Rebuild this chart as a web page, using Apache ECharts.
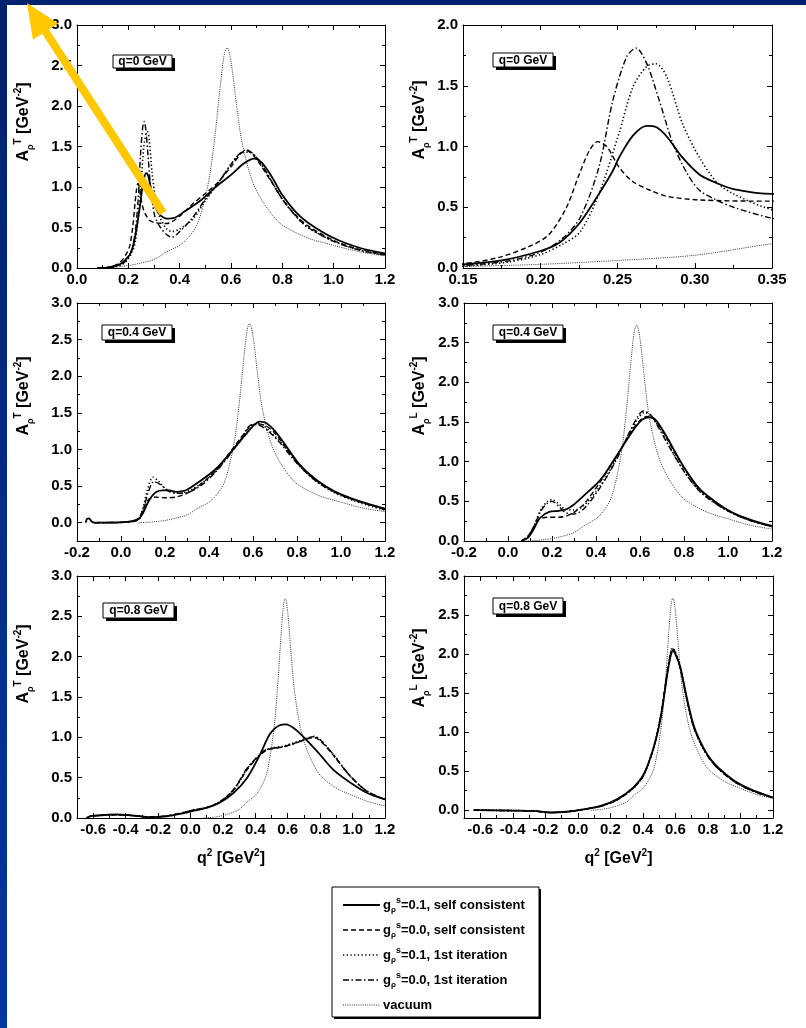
<!DOCTYPE html>
<html>
<head>
<meta charset="utf-8">
<script src="https://cdn.jsdelivr.net/npm/echarts@6/dist/echarts.min.js"></script>
<style>
html,body{margin:0;padding:0;background:#fff}
#chart{width:806px;height:1028px}
</style>
</head>
<body>
<div id="chart"></div>
<script>
var FONT = '"Liberation Sans", Arial, Helvetica, sans-serif';

// 真空谱函数 (same curve in every panel, x = q^2)
var vacuum = [[0.08,0],[0.12,0.005],[0.15,0.012],[0.2,0.03],[0.25,0.062],[0.3,0.105],[0.35,0.2],[0.4,0.28],[0.44,0.4],[0.47,0.55],[0.5,0.88],[0.52,1.2],[0.54,1.7],[0.56,2.3],[0.575,2.66],[0.585,2.72],[0.6,2.55],[0.62,2.05],[0.64,1.6],[0.67,1.2],[0.7,0.95],[0.75,0.7],[0.8,0.53],[0.9,0.37],[1.0,0.28],[1.1,0.2],[1.2,0.15]];

// q = 0, transverse (top two panels)
var q0Solid = [[0.08,0],[0.12,0.005],[0.15,0.03],[0.174,0.06],[0.2,0.14],[0.2126,0.21],[0.2255,0.37],[0.238,0.61],[0.247,0.8],[0.251,0.91],[0.26,1.09],[0.269,1.17],[0.275,1.16],[0.282,1.08],[0.292,0.91],[0.303,0.77],[0.314,0.7],[0.325,0.65],[0.35,0.61],[0.38,0.62],[0.42,0.7],[0.48,0.83],[0.54,1.0],[0.6,1.15],[0.65,1.29],[0.69,1.35],[0.72,1.3],[0.76,1.12],[0.8,0.9],[0.85,0.7],[0.9,0.56],[1.0,0.37],[1.1,0.25],[1.2,0.18]];
var q0Dashed = [[0.08,0],[0.12,0.01],[0.15,0.035],[0.174,0.09],[0.195,0.19],[0.206,0.28],[0.217,0.5],[0.2255,0.78],[0.232,0.97],[0.237,1.04],[0.243,1.0],[0.251,0.83],[0.26,0.71],[0.271,0.64],[0.282,0.59],[0.303,0.56],[0.35,0.55],[0.4,0.64],[0.45,0.79],[0.5,0.92],[0.55,1.06],[0.6,1.25],[0.64,1.42],[0.66,1.45],[0.69,1.38],[0.72,1.25],[0.76,1.05],[0.8,0.85],[0.85,0.66],[0.9,0.52],[1.0,0.34],[1.1,0.23],[1.2,0.17]];
var q0Dotted = [[0.08,0],[0.12,0.003],[0.15,0.015],[0.18,0.05],[0.2,0.11],[0.215,0.2],[0.226,0.3],[0.238,0.61],[0.251,1.11],[0.26,1.49],[0.269,1.66],[0.275,1.68],[0.282,1.57],[0.292,1.19],[0.303,0.91],[0.314,0.71],[0.325,0.61],[0.35,0.48],[0.37,0.45],[0.4,0.48],[0.45,0.6],[0.5,0.83],[0.55,1.05],[0.6,1.28],[0.64,1.42],[0.67,1.43],[0.7,1.36],[0.73,1.22],[0.76,1.06],[0.8,0.85],[0.85,0.65],[0.9,0.5],[1.0,0.33],[1.1,0.22],[1.2,0.16]];
var q0DashDot = [[0.08,0],[0.12,0.005],[0.15,0.02],[0.18,0.06],[0.2,0.13],[0.215,0.25],[0.226,0.42],[0.238,0.83],[0.247,1.38],[0.256,1.74],[0.262,1.81],[0.269,1.68],[0.277,1.38],[0.286,1.02],[0.295,0.78],[0.303,0.64],[0.314,0.56],[0.325,0.5],[0.35,0.41],[0.37,0.38],[0.4,0.45],[0.45,0.62],[0.5,0.85],[0.55,1.05],[0.6,1.28],[0.63,1.4],[0.66,1.46],[0.69,1.4],[0.72,1.28],[0.76,1.06],[0.8,0.85],[0.85,0.65],[0.9,0.5],[1.0,0.33],[1.1,0.22],[1.2,0.16]];

// q = 0.4 GeV, transverse
var q4tSolid = [[-0.16,0],[-0.155,0.05],[-0.145,0.06],[-0.135,0.02],[-0.12,0],[0,0.005],[0.05,0.02],[0.08,0.05],[0.1,0.13],[0.12,0.26],[0.14,0.36],[0.16,0.42],[0.19,0.44],[0.22,0.44],[0.25,0.42],[0.28,0.43],[0.3,0.45],[0.36,0.57],[0.43,0.73],[0.51,1.0],[0.56,1.18],[0.6,1.32],[0.63,1.38],[0.66,1.36],[0.7,1.25],[0.74,1.09],[0.81,0.8],[0.89,0.58],[0.97,0.43],[1.05,0.33],[1.12,0.26],[1.2,0.19]];
var q4tDashed = [[-0.12,0],[0,0.005],[0.05,0.02],[0.08,0.06],[0.1,0.18],[0.12,0.3],[0.15,0.35],[0.2,0.34],[0.25,0.35],[0.3,0.4],[0.36,0.52],[0.43,0.71],[0.5,0.98],[0.55,1.18],[0.59,1.32],[0.62,1.35],[0.66,1.32],[0.7,1.22],[0.74,1.06],[0.81,0.79],[0.89,0.57],[0.97,0.42],[1.05,0.32],[1.12,0.25],[1.2,0.18]];
var q4tDotted = [[-0.12,0],[0,0.005],[0.05,0.015],[0.08,0.05],[0.1,0.2],[0.12,0.45],[0.145,0.62],[0.17,0.57],[0.2,0.47],[0.23,0.42],[0.27,0.41],[0.32,0.45],[0.38,0.57],[0.43,0.7],[0.5,0.96],[0.55,1.16],[0.58,1.3],[0.61,1.35],[0.64,1.34],[0.68,1.24],[0.74,1.05],[0.81,0.78],[0.89,0.56],[0.97,0.41],[1.05,0.31],[1.12,0.24],[1.2,0.17]];
var q4tDashDot = [[-0.12,0],[0,0.005],[0.05,0.015],[0.08,0.04],[0.1,0.15],[0.12,0.38],[0.15,0.56],[0.18,0.52],[0.21,0.44],[0.25,0.4],[0.3,0.41],[0.36,0.5],[0.43,0.69],[0.5,0.95],[0.55,1.17],[0.58,1.31],[0.6,1.34],[0.63,1.33],[0.67,1.25],[0.72,1.1],[0.78,0.88],[0.85,0.66],[0.92,0.5],[1.0,0.38],[1.1,0.27],[1.2,0.19]];

// q = 0.4 GeV, longitudinal
var q4lSolid = [[0.06,0],[0.09,0.04],[0.115,0.14],[0.145,0.29],[0.19,0.37],[0.23,0.38],[0.266,0.4],[0.3,0.46],[0.34,0.56],[0.42,0.77],[0.49,1.06],[0.57,1.4],[0.61,1.53],[0.64,1.56],[0.67,1.53],[0.72,1.32],[0.76,1.12],[0.8,0.93],[0.87,0.66],[0.95,0.48],[1.02,0.36],[1.1,0.27],[1.2,0.19]];
var q4lDashed = [[0.06,0],[0.09,0.06],[0.115,0.17],[0.14,0.27],[0.18,0.3],[0.23,0.3],[0.27,0.32],[0.31,0.38],[0.35,0.48],[0.42,0.75],[0.49,1.05],[0.56,1.38],[0.6,1.52],[0.63,1.57],[0.66,1.54],[0.7,1.4],[0.75,1.15],[0.8,0.92],[0.87,0.65],[0.95,0.47],[1.02,0.35],[1.1,0.26],[1.2,0.18]];
var q4lDotted = [[0.06,0],[0.09,0.05],[0.12,0.2],[0.15,0.4],[0.18,0.5],[0.2,0.52],[0.23,0.47],[0.26,0.4],[0.3,0.39],[0.35,0.46],[0.42,0.7],[0.49,1.02],[0.55,1.35],[0.59,1.54],[0.62,1.62],[0.65,1.58],[0.69,1.42],[0.74,1.16],[0.8,0.88],[0.87,0.63],[0.95,0.46],[1.02,0.35],[1.1,0.26],[1.2,0.18]];
var q4lDashDot = [[0.06,0],[0.09,0.05],[0.12,0.2],[0.15,0.38],[0.18,0.48],[0.2,0.5],[0.23,0.44],[0.26,0.36],[0.3,0.34],[0.35,0.42],[0.42,0.68],[0.49,1.01],[0.55,1.36],[0.59,1.57],[0.615,1.64],[0.645,1.6],[0.68,1.45],[0.73,1.2],[0.8,0.88],[0.87,0.63],[0.95,0.46],[1.02,0.35],[1.1,0.26],[1.2,0.18]];

// q = 0.8 GeV, transverse
var q8tSolid = [[-0.64,0],[-0.62,0.02],[-0.56,0.035],[-0.46,0.045],[-0.4,0.04],[-0.35,0.03],[-0.25,0.01],[-0.15,0.02],[-0.04,0.06],[0.02,0.09],[0.1,0.125],[0.18,0.19],[0.265,0.31],[0.35,0.5],[0.43,0.79],[0.49,1.04],[0.55,1.15],[0.59,1.16],[0.64,1.11],[0.68,1.04],[0.78,0.83],[0.88,0.6],[0.985,0.44],[1.09,0.31],[1.2,0.23]];
var q8tDashed = [[-0.64,0],[-0.62,0.02],[-0.56,0.03],[-0.46,0.04],[-0.35,0.03],[-0.25,0.012],[-0.15,0.025],[-0.04,0.07],[0.02,0.1],[0.1,0.13],[0.18,0.2],[0.265,0.35],[0.35,0.6],[0.41,0.74],[0.47,0.84],[0.57,0.88],[0.635,0.92],[0.72,0.98],[0.76,1.0],[0.8,0.96],[0.88,0.78],[0.985,0.52],[1.09,0.33],[1.2,0.23]];
var q8tDotted = [[-0.64,0],[-0.62,0.02],[-0.56,0.03],[-0.46,0.04],[-0.35,0.03],[-0.25,0.01],[-0.15,0.022],[-0.04,0.068],[0.02,0.1],[0.1,0.13],[0.18,0.2],[0.265,0.34],[0.35,0.61],[0.41,0.75],[0.47,0.85],[0.57,0.89],[0.635,0.93],[0.72,0.99],[0.76,1.01],[0.8,0.97],[0.88,0.79],[0.985,0.52],[1.09,0.33],[1.2,0.23]];
var q8tDashDot = [[-0.64,0],[-0.62,0.02],[-0.56,0.03],[-0.46,0.04],[-0.35,0.03],[-0.25,0.01],[-0.15,0.025],[-0.04,0.07],[0.02,0.1],[0.1,0.13],[0.18,0.2],[0.265,0.35],[0.35,0.62],[0.41,0.75],[0.47,0.85],[0.57,0.88],[0.635,0.92],[0.72,0.98],[0.76,1.01],[0.8,0.97],[0.88,0.79],[0.985,0.52],[1.09,0.33],[1.2,0.23]];

// q = 0.8 GeV, longitudinal
var q8lSolid = [[-0.64,0],[-0.4,-0.005],[-0.27,-0.01],[-0.17,-0.03],[-0.07,-0.02],[0.035,0.01],[0.14,0.055],[0.24,0.14],[0.34,0.29],[0.405,0.46],[0.466,0.8],[0.51,1.19],[0.55,1.74],[0.57,1.97],[0.585,2.04],[0.6,2.0],[0.63,1.83],[0.67,1.44],[0.71,1.1],[0.75,0.89],[0.8,0.7],[0.86,0.55],[0.96,0.38],[1.06,0.27],[1.2,0.16]];
var q8lDashed = [[-0.64,0],[-0.4,-0.005],[-0.27,-0.01],[-0.17,-0.03],[-0.07,-0.02],[0.035,0.01],[0.14,0.05],[0.24,0.13],[0.34,0.28],[0.405,0.45],[0.466,0.8],[0.51,1.2],[0.55,1.76],[0.57,1.99],[0.58,2.06],[0.6,2.01],[0.63,1.82],[0.67,1.42],[0.71,1.08],[0.75,0.88],[0.8,0.69],[0.86,0.54],[0.96,0.37],[1.06,0.26],[1.2,0.16]];
var q8lDotted = [[-0.64,0],[-0.4,-0.005],[-0.27,-0.01],[-0.17,-0.03],[-0.07,-0.02],[0.035,0.01],[0.14,0.05],[0.24,0.13],[0.34,0.28],[0.405,0.45],[0.466,0.81],[0.51,1.22],[0.55,1.78],[0.57,2.01],[0.58,2.08],[0.6,2.02],[0.63,1.82],[0.67,1.42],[0.71,1.08],[0.75,0.87],[0.8,0.69],[0.86,0.54],[0.96,0.37],[1.06,0.26],[1.2,0.16]];
var q8lDashDot = [[-0.64,0],[-0.4,-0.005],[-0.27,-0.01],[-0.17,-0.03],[-0.07,-0.02],[0.035,0.01],[0.14,0.05],[0.24,0.13],[0.34,0.28],[0.405,0.45],[0.466,0.8],[0.51,1.21],[0.55,1.77],[0.57,2.0],[0.58,2.07],[0.6,2.02],[0.63,1.82],[0.67,1.42],[0.71,1.08],[0.75,0.88],[0.8,0.69],[0.86,0.54],[0.96,0.37],[1.06,0.26],[1.2,0.16]];

// 刻度
var xTicksQ0 = [0,0.2,0.4,0.6,0.8,1.0,1.2];
var xTicksZoom = [0.15,0.2,0.25,0.3,0.35];
var xTicksQ4 = [-0.2,0,0.2,0.4,0.6,0.8,1.0,1.2];
var xTicksQ8 = [-0.6,-0.4,-0.2,0,0.2,0.4,0.6,0.8,1.0,1.2];
var yTicks3 = [0,0.5,1.0,1.5,2.0,2.5,3.0];
var yTicks2 = [0,0.5,1.0,1.5,2.0];

var legendNames = ['=0.1, self consistent','=0.0, self consistent','=0.1, 1st iteration','=0.0, 1st iteration','vacuum'];

var RICH = {
  a:{fontSize:16,fontWeight:'bold',fontFamily:FONT,color:'#000',lineHeight:22},
  s:{fontSize:9,fontWeight:'bold',fontFamily:FONT,color:'#000',lineHeight:9,verticalAlign:'bottom'},
  t:{fontSize:10,fontWeight:'bold',fontFamily:FONT,color:'#000',lineHeight:10,verticalAlign:'top'}
};
var RICH_L = {
  a:{fontSize:13,fontWeight:'bold',fontFamily:FONT,color:'#000',lineHeight:17},
  s:{fontSize:8,fontWeight:'bold',fontFamily:FONT,color:'#000',lineHeight:8,verticalAlign:'bottom'},
  t:{fontSize:9,fontWeight:'bold',fontFamily:FONT,color:'#000',lineHeight:9,verticalAlign:'top'}
};

// line styles: vacuum, dash-dot, dotted, dashed, solid
var lineStyles = [
  {type:[1,1.2],width:1,color:'#333'},
  {type:[6,2.5,1.5,2.5],width:1.4,color:'#000'},
  {type:[1.3,2.4],width:1.6,color:'#000'},
  {type:[5,3],width:1.4,color:'#000'},
  {type:'solid',width:1.8,color:'#000'}
];

var panels = [
  {rect:[77,25,308,243], x:[0,1.2], xt:xTicksQ0, xd:1, y:[0,3], yt:yTicks3, pol:'T', yname:[24,122], box:[113,55,59,13,'q=0 GeV'],
   data:[vacuum,q0DashDot,q0Dotted,q0Dashed,q0Solid]},
  {rect:[463,25,309,243], x:[0.15,0.35], xt:xTicksZoom, xd:2, y:[0,2], yt:yTicks2, pol:'T', yname:[420,120], box:[493,53,60,14,'q=0 GeV'],
   data:[vacuum,q0DashDot,q0Dotted,q0Dashed,q0Solid]},
  {rect:[77,303,308,238], x:[-0.2,1.2], xt:xTicksQ4, xd:1, y:[-0.25,3], yt:yTicks3, pol:'T', yname:[24,396], box:[102,325,70,15,'q=0.4 GeV'],
   data:[vacuum,q4tDashDot,q4tDotted,q4tDashed,q4tSolid]},
  {rect:[464,303,308,238], x:[-0.2,1.2], xt:xTicksQ4, xd:1, y:[0,3], yt:yTicks3, pol:'L', yname:[420,396], box:[493,325,70,15,'q=0.4 GeV'],
   data:[vacuum,q4lDashDot,q4lDotted,q4lDashed,q4lSolid]},
  {rect:[77,576,308,242], x:[-0.7,1.2], xt:xTicksQ8, xd:1, y:[0,3], yt:yTicks3, pol:'T', yname:[24,664], box:[103,603,71,15,'q=0.8 GeV'], xname:true,
   data:[vacuum,q8tDashDot,q8tDotted,q8tDashed,q8tSolid]},
  {rect:[464,576,309,242], x:[-0.7,1.2], xt:xTicksQ8, xd:1, y:[-0.1,3], yt:yTicks3, pol:'L', yname:[420,668], box:[493,598,70,16,'q=0.8 GeV'], xname:true,
   data:[vacuum,q8lDashDot,q8lDotted,q8lDashed,q8lSolid]}
];

function r4(v){ return Math.round(v*10000)/10000; }
function minorTicks(major,min,max){
  var step = major[1]-major[0], out = [];
  if (major[0]-step/2 >= min-1e-9) out.push(r4(major[0]-step/2));
  for (var i=0;i<major.length;i++){
    var m = major[i]+step/2;
    if (m <= max+1e-9) out.push(r4(m));
  }
  return out;
}

function axes(gi,min,max,major,dec,isX,name,gap){
  var minor = minorTicks(major,min,max);
  var pa = isX?'bottom':'left', pb = isX?'top':'right';
  function ax(pos,ticks,len,line,label){
    var a = {type:'value',gridIndex:gi,position:pos,min:min,max:max,
      splitLine:{show:false},
      axisLine:{show:line,onZero:false,lineStyle:{color:'#000',width:1}},
      axisTick:{show:true,inside:true,length:len,customValues:ticks,lineStyle:{color:'#000',width:1}},
      axisLabel:{show:false}};
    if (label){
      a.axisLabel = {show:true,customValues:major,margin:isX?4:5,color:'#000',fontSize:15,fontWeight:'bold',fontFamily:FONT,
        formatter:function(v){ return (+v).toFixed(dec); }};
    }
    return a;
  }
  var main = ax(pa,major,5,true,true);
  if (name){
    main.name = name; main.nameLocation = 'middle'; main.nameGap = gap;
    main.nameTextStyle = {rich:RICH};
  }
  return [main, ax(pa,minor,3,false,false), ax(pb,major,5,true,false), ax(pb,minor,3,false,false)];
}

var grids = [], xAxes = [], yAxes = [], series = [], graphics = [];

panels.forEach(function(p,gi){
  grids.push({left:p.rect[0],top:p.rect[1],width:p.rect[2],height:p.rect[3],containLabel:false});
  xAxes = xAxes.concat(axes(gi,p.x[0],p.x[1],p.xt,p.xd,true,
    p.xname?'{a|q}{t|2}{a| [GeV}{t|2}{a|]}':'',30));
  yAxes = yAxes.concat(axes(gi,p.y[0],p.y[1],p.yt,1,false,'',0));
  p.data.forEach(function(d,k){
    series.push({type:'line',xAxisIndex:gi*4,yAxisIndex:gi*4,data:d,symbol:'none',showSymbol:false,
      smooth:0.3,silent:true,clip:true,lineStyle:lineStyles[k],z:2+k});
  });
  // y 轴标题
  graphics.push({type:'text',x:p.yname[0],y:p.yname[1],rotation:Math.PI/2,
    style:{text:'{a|A}{s|ρ}{t|'+p.pol+'}{a| [GeV}{t|-2}{a|]}',rich:RICH,align:'center',verticalAlign:'middle'},z:12});
  var b = p.box;
  graphics.push({type:'rect',shape:{x:b[0]+3,y:b[1]+3,width:b[2],height:b[3]},style:{fill:'#000'},z:10});
  graphics.push({type:'rect',shape:{x:b[0],y:b[1],width:b[2],height:b[3]},style:{fill:'#fff',stroke:'#000',lineWidth:1},z:11});
  graphics.push({type:'text',x:b[0]+b[2]/2,y:b[1]+b[3]/2+0.5,
    style:{text:b[4],fill:'#000',font:'bold 12px '+FONT,align:'center',verticalAlign:'middle'},z:12});
});

// 图例框
var LX = 332, LY = 887, LW = 207, LH = 130;
graphics.push({type:'rect',shape:{x:LX+2,y:LY+2,width:LW,height:LH},style:{fill:'#000'},z:10});
graphics.push({type:'rect',shape:{x:LX,y:LY,width:LW,height:LH},style:{fill:'#fff',stroke:'#000',lineWidth:1},z:11});
var legendOrder = [4,3,2,1,0];
legendNames.forEach(function(nm,i){
  var ls = lineStyles[legendOrder[i]];
  var yy = LY + 18 + i*25;
  graphics.push({type:'line',shape:{x1:343,y1:yy,x2:380,y2:yy},
    style:{stroke:ls.color,lineWidth:ls.width,lineDash:ls.type==='solid'?null:ls.type},z:12});
  var txt = i<4 ? '{a|g}{s|ρ}{t|s}{a|'+nm+'}' : '{a|'+nm+'}';
  graphics.push({type:'text',x:383,y:yy,style:{text:txt,rich:RICH_L,align:'left',verticalAlign:'middle'},z:12});
});

// 蓝色边框
graphics.push({type:'rect',shape:{x:0,y:0,width:806,height:5},style:{fill:'#00216b'},z:20});
graphics.push({type:'rect',shape:{x:0,y:0,width:7,height:1028},
  style:{fill:new echarts.graphic.LinearGradient(0,0,0,1,[{offset:0,color:'#00216b'},{offset:1,color:'#0536a0'}])},z:20});

// 黄色箭头
graphics.push({type:'polygon',shape:{points:[[159.6,215.2],[166.4,210.8],[48.9,29.4],[58.1,23.4],[27,3],[32.9,39.8],[42.1,33.8]]},
  style:{fill:'#ffc800'},z:30});

var chart = echarts.init(document.getElementById('chart'));
chart.setOption({
  backgroundColor:'#fff',
  animation:false,
  grid:grids,
  xAxis:xAxes,
  yAxis:yAxes,
  series:series,
  graphic:{elements:graphics}
});
</script>
</body>
</html>
